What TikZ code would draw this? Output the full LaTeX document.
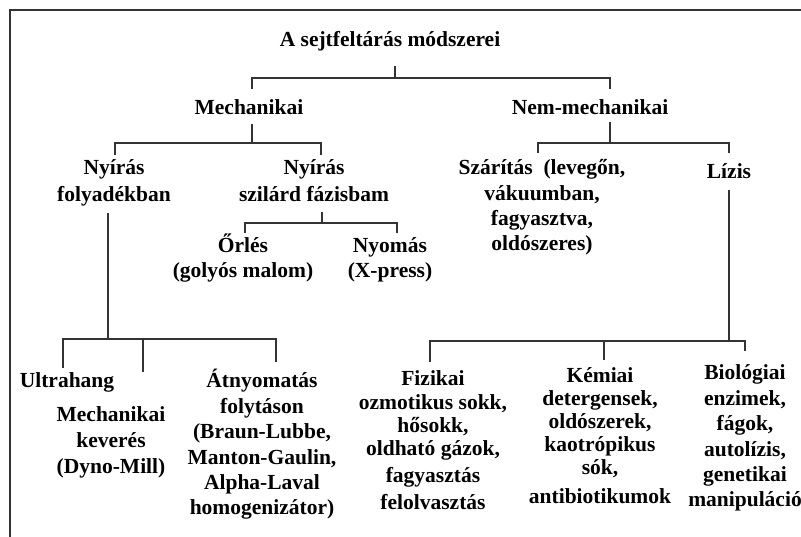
\documentclass[tikz,border=0pt]{standalone}
\usepackage{fontspec}
\setmainfont{Liberation Serif}
\newcommand{\ml}[1]{\begin{tabular}[t]{@{}c@{}}#1\end{tabular}}
\tikzset{
  txt/.style={font=\fontsize{21.5}{25.5}\selectfont\bfseries, inner sep=0pt, anchor=base, text=black},
  ln/.style={line width=1.6pt, draw=black!80},
}
\begin{document}
\begin{tikzpicture}[x=1pt,y=-1pt]
\useasboundingbox (0,0) rectangle (801,537);
\fill[white] (0,0) rectangle (801,537);
% frame
\coordinate (fr0) at (10,10);
\coordinate (fr1) at (801,10);
\coordinate (fr2) at (10,537);
\draw[ln] (fr1) -- (fr0) -- (fr2);

% texts
\node[txt] (title) at (390,47) {A sejtfeltárás módszerei};
\node[txt] (mech) at (249,115) {Mechanikai};
\node[txt] (nem) at (590,115) {Nem-mechanikai};
\node[txt,font=\fontsize{21.5}{27}\selectfont\bfseries] (nyf) at (114,175) {\ml{Nyírás\\folyadékban}};
\node[txt,font=\fontsize{21.5}{27}\selectfont\bfseries] (nysz) at (314,175) {\ml{Nyírás\\szilárd fázisbam}};
\node[txt,font=\fontsize{21.5}{25}\selectfont\bfseries] (orles) at (243,253) {\ml{Őrlés\\(golyós malom)}};
\node[txt,font=\fontsize{21.5}{25}\selectfont\bfseries] (nyomas) at (390,253) {\ml{Nyomás\\(X-press)}};
\node[txt,font=\fontsize{21.5}{25.3}\selectfont\bfseries] (szar) at (542,175) {\ml{Szárítás\hspace{0.5em}(levegőn,\\vákuumban,\\fagyasztva,\\oldószeres)}};
\node[txt] (lizis) at (729,179) {Lízis};
\node[txt] (ultra) at (67,388) {Ultrahang};
\node[txt,font=\fontsize{21.5}{26}\selectfont\bfseries] (mk) at (111,421) {\ml{Mechanikai\\keverés\\(Dyno-Mill)}};
\node[txt,font=\fontsize{21.5}{25.4}\selectfont\bfseries] (atny) at (262,388) {\ml{Átnyomatás\\folytáson\\(Braun-Lubbe,\\Manton-Gaulin,\\Alpha-Laval\\homogenizátor)}};
\node[txt,font=\fontsize{21.5}{23.3}\selectfont\bfseries] (fiz) at (433,386) {\ml{Fizikai\\ozmotikus sokk,\\hősokk,\\oldható gázok,\\[3.7pt]fagyasztás\\[3.7pt]felolvasztás}};
\node[txt,font=\fontsize{21.5}{23}\selectfont\bfseries] (kem) at (600,383) {\ml{Kémiai\\detergensek,\\oldószerek,\\kaotrópikus\\sók,\\[6pt]antibiotikumok}};
\node[txt,font=\fontsize{21.5}{25.4}\selectfont\bfseries] (bio) at (745,380) {\ml{Biológiai\\enzimek,\\fágok,\\autolízis,\\genetikai\\manipuláció}};

% connector coordinates
\coordinate (t-s) at (395,66);
\coordinate (t-j) at (395,78);
\coordinate (mech-n) at (252,89);
\coordinate (nem-n) at (610,89);
\coordinate (mech-s) at (252,124);
\coordinate (mech-j) at (252,143);
\coordinate (nyf-n) at (115,155);
\coordinate (nysz-n) at (321,155);
\coordinate (nem-s) at (610,122);
\coordinate (nem-j) at (610,143);
\coordinate (szar-n) at (538,153);
\coordinate (lizis-n) at (729,153);
\coordinate (nysz-s) at (322,212);
\coordinate (nysz-j) at (322,223);
\coordinate (orles-n) at (245,233);
\coordinate (nyomas-n) at (397,233);
\coordinate (nyf-s) at (108,213);
\coordinate (nyf-j) at (108,339);
\coordinate (ultra-n) at (63,368);
\coordinate (mk-n) at (143,372);
\coordinate (atny-n) at (276,362);
\coordinate (lizis-s) at (729,190);
\coordinate (lizis-j) at (729,341);
\coordinate (fiz-n) at (430,362);
\coordinate (kem-n) at (604,360);
\coordinate (bio-n) at (745,351);

% connectors
\draw[ln] (t-s) -- (t-j);
\draw[ln] (mech-n) |- (nem-n |- t-j) -- (nem-n);
\draw[ln] (mech-s) -- (mech-j);
\draw[ln] (nyf-n) |- (nysz-n |- mech-j) -- (nysz-n);
\draw[ln] (nem-s) -- (nem-j);
\draw[ln] (szar-n) |- (lizis-n |- nem-j) -- (lizis-n);
\draw[ln] (nysz-s) -- (nysz-j);
\draw[ln] (orles-n) |- (nyomas-n |- nysz-j) -- (nyomas-n);
\draw[ln] (nyf-s) -- (nyf-j);
\draw[ln] (ultra-n) |- (atny-n |- nyf-j) -- (atny-n);
\draw[ln] (mk-n) -- (mk-n |- nyf-j);
\draw[ln] (lizis-s) -- (lizis-j);
\draw[ln] (fiz-n) |- (bio-n |- lizis-j) -- (bio-n);
\draw[ln] (kem-n) -- (kem-n |- lizis-j);
\end{tikzpicture}
\end{document}
